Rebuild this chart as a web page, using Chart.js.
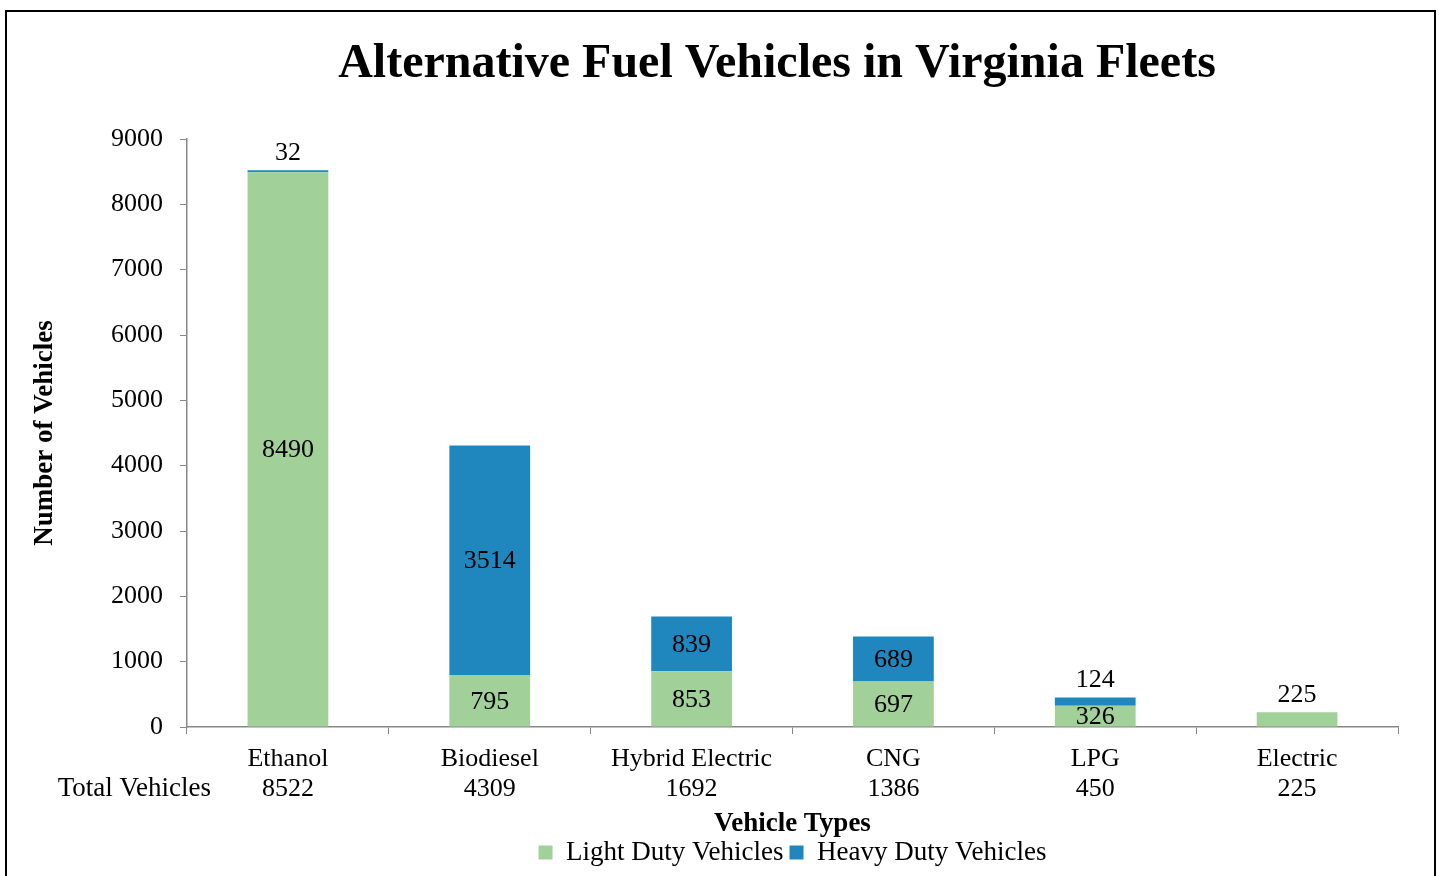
<!DOCTYPE html>
<html>
<head>
<meta charset="utf-8">
<title>Alternative Fuel Vehicles in Virginia Fleets</title>
<script src="https://cdn.jsdelivr.net/npm/chart.js@4.4.1/dist/chart.umd.min.js"></script>
<style>
    html, body { margin: 0; padding: 0; background: #fff; overflow: hidden; }
    #wrap { position: relative; width: 1439px; height: 876px; }
    #wrap canvas { position: absolute; left: 0; top: 0; }
    #frame {
        position: absolute; left: 5px; top: 10px; width: 1431px; height: 900px;
        box-sizing: border-box; border: 2px solid #000; pointer-events: none;
    }
</style>
</head>
<body>
<div id="wrap">
    <canvas id="fleetChart" width="1439" height="876"></canvas>
    <div id="frame"></div>
</div>
<script>
const chartTitle = "Alternative Fuel Vehicles in Virginia Fleets";
const vehicleTypes = ["Ethanol", "Biodiesel", "Hybrid Electric", "CNG", "LPG", "Electric"];
const totalVehicles = [8522, 4309, 1692, 1386, 450, 225];
const lightDuty = [8490, 795, 853, 697, 326, 225];
const heavyDuty = [32, 3514, 839, 689, 124, null];
const yMax = 9000;
const yStep = 1000;

const serif = "'Liberation Serif', 'Times New Roman', serif";
const axisGrey = "#888888";

// big heading, centred a little left of the plot like the original sheet
const headingText = {
    id: "headingText",
    afterDraw(chart) {
        const ctx = chart.ctx;
        ctx.save();
        ctx.font = `bold 48px ${serif}`;
        ctx.fillStyle = "#000";
        ctx.textAlign = "center";
        ctx.textBaseline = "middle";
        ctx.fillText(chartTitle, 777, 65);
        ctx.restore();
    },
};

// value labels: centred in the segment, or above the stack when the top piece is too thin
const segmentLabels = {
    id: "segmentLabels",
    afterDatasetsDraw(chart) {
        const ctx = chart.ctx;
        ctx.save();
        ctx.font = `26px ${serif}`;
        ctx.fillStyle = "#000";
        ctx.textAlign = "center";
        ctx.textBaseline = "middle";
        chart.data.datasets.forEach((dataset, di) => {
            const meta = chart.getDatasetMeta(di);
            meta.data.forEach((bar, i) => {
                const value = dataset.data[i];
                if (!value) {
                    return;
                }
                const isTop = chart.data.datasets.slice(di + 1).every((d) => !d.data[i]);
                const height = bar.base - bar.y;
                const y = isTop && height < 20 ? bar.y - 17 : (bar.y + bar.base) / 2 + 1;
                ctx.fillText(String(value), bar.x, y);
            });
        });
        ctx.restore();
    },
};

// "Total Vehicles" caption in front of the second row of category labels
const totalsCaption = {
    id: "totalsCaption",
    afterDraw(chart) {
        const xScale = chart.scales.x;
        const ticks = xScale.options.ticks;
        const lineHeight = 26 * 1.15;
        const y = xScale.top + xScale.options.grid.tickLength + ticks.padding + lineHeight * 1.5;
        const ctx = chart.ctx;
        ctx.save();
        ctx.font = `27px ${serif}`;
        ctx.fillStyle = "#000";
        ctx.textAlign = "right";
        ctx.textBaseline = "middle";
        ctx.fillText("Total Vehicles", chart.chartArea.left + 24, y);
        ctx.restore();
    },
};

Chart.defaults.font.family = serif;
Chart.defaults.color = "#000";

new Chart(document.getElementById("fleetChart"), {
    type: "bar",
    data: {
        labels: vehicleTypes.map((name, i) => [name, String(totalVehicles[i])]),
        datasets: [
            {
                label: "Light Duty Vehicles",
                data: lightDuty,
                backgroundColor: "#a1d099",
                barPercentage: 0.4,
                categoryPercentage: 1,
            },
            {
                label: "Heavy Duty Vehicles",
                data: heavyDuty,
                backgroundColor: "#1f87be",
                barPercentage: 0.4,
                categoryPercentage: 1,
            },
        ],
    },
    options: {
        responsive: false,
        animation: false,
        layout: { padding: { top: 139, left: 10, right: 41, bottom: 0 } },
        plugins: {
            title: { display: false },
            legend: {
                position: "bottom",
                fullSize: false,
                labels: {
                    boxWidth: 14,
                    boxHeight: 14,
                    padding: 6,
                    color: "#000",
                    font: { size: 27, family: serif },
                },
            },
            tooltip: { enabled: false },
        },
        scales: {
            x: {
                stacked: true,
                grid: { display: true, drawOnChartArea: false, tickLength: 7, color: axisGrey },
                border: { color: axisGrey, width: 1.5 },
                ticks: {
                    autoSkip: false,
                    maxRotation: 0,
                    padding: 10,
                    color: "#000",
                    font: { size: 26, family: serif, lineHeight: 1.15 },
                },
                title: {
                    display: true,
                    text: "Vehicle Types",
                    color: "#000",
                    font: { size: 27, weight: "bold", family: serif, lineHeight: 0.7 },
                    padding: { top: 0, bottom: 0 },
                },
                afterFit(scale) {
                    scale.height = 106;
                },
            },
            y: {
                stacked: true,
                min: 0,
                max: yMax,
                grid: { display: true, drawOnChartArea: false, tickLength: 7, color: axisGrey },
                border: { color: axisGrey, width: 1.5 },
                ticks: {
                    stepSize: yStep,
                    padding: 17,
                    color: "#000",
                    font: { size: 26, family: serif },
                    callback: (value) => String(value),
                },
                title: {
                    display: true,
                    text: "Number of Vehicles",
                    color: "#000",
                    font: { size: 27, weight: "bold", family: serif, lineHeight: 1 },
                    padding: { top: 21.5, bottom: 0 },
                },
                afterFit(scale) {
                    scale.width = 177;
                },
            },
        },
    },
    plugins: [headingText, segmentLabels, totalsCaption],
});
</script>
</body>
</html>
